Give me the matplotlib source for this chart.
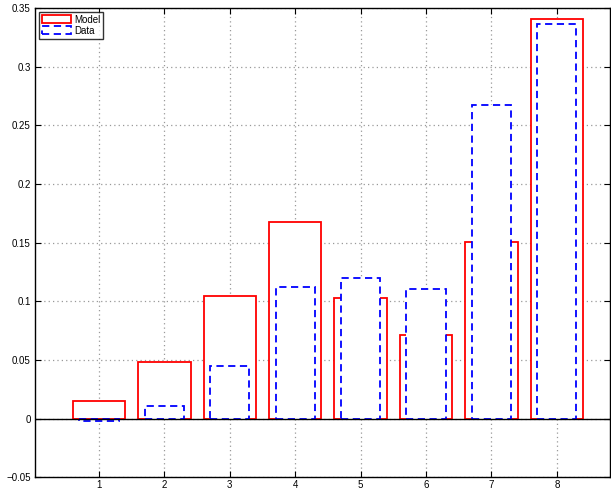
import matplotlib
matplotlib.use("Agg")
import matplotlib.pyplot as plt
import numpy as np

# Bar data
bins = [1, 2, 3, 4, 5, 6, 7, 8]
model = [0.015, 0.048, 0.105, 0.168, 0.103, 0.071, 0.151, 0.341]
data = [-0.002, 0.011, 0.045, 0.112, 0.120, 0.111, 0.267, 0.336]
yticks = [-0.05, 0, 0.05, 0.1, 0.15, 0.2, 0.25, 0.3, 0.35]
ytick_labels = ['\u22120.05', '0', '0.05', '0.1', '0.15', '0.2', '0.25', '0.3', '0.35']

plt.rcParams['font.family'] = ['Liberation Sans', 'DejaVu Sans']

fig = plt.figure(figsize=(6.11, 4.91), dpi=100)
ax = fig.add_axes([0.0573, 0.0275, 0.9407, 0.9562])
ax.set_axisbelow(True)

ax.bar(bins, model, width=0.8, facecolor='white', edgecolor='red',
       linewidth=1.3, label='Model', zorder=2)
ax.bar(bins, data, width=0.6, facecolor='white', edgecolor='blue',
       linewidth=1.3, linestyle=(0, (4, 2.5)), label='Data', zorder=3)
ax.axhline(0, color='black', linewidth=1.0, zorder=4)

ax.set_xlim(0.02, 8.81)
ax.set_ylim(-0.05, 0.35)
ax.set_xticks(bins)
ax.set_yticks(yticks)
ax.set_yticklabels(ytick_labels)
ax.grid(True, linestyle=(0, (1, 2.5)), color='#999999', linewidth=0.9)
ax.tick_params(direction='in', top=True, right=True, labelsize=7, length=4, width=0.8)
ax.tick_params(axis='x', pad=2)
ax.tick_params(axis='y', pad=3)
for s in ax.spines.values():
    s.set_linewidth(1.0)

leg = ax.legend(loc='upper left', fontsize=7, frameon=True, fancybox=False,
                edgecolor='black', handlelength=3.0, handleheight=0.9,
                borderpad=0.3, labelspacing=0.1, handletextpad=0.3,
                borderaxespad=0.4)
leg.get_frame().set_linewidth(1.0)

plt.savefig("out.png", dpi=100)
